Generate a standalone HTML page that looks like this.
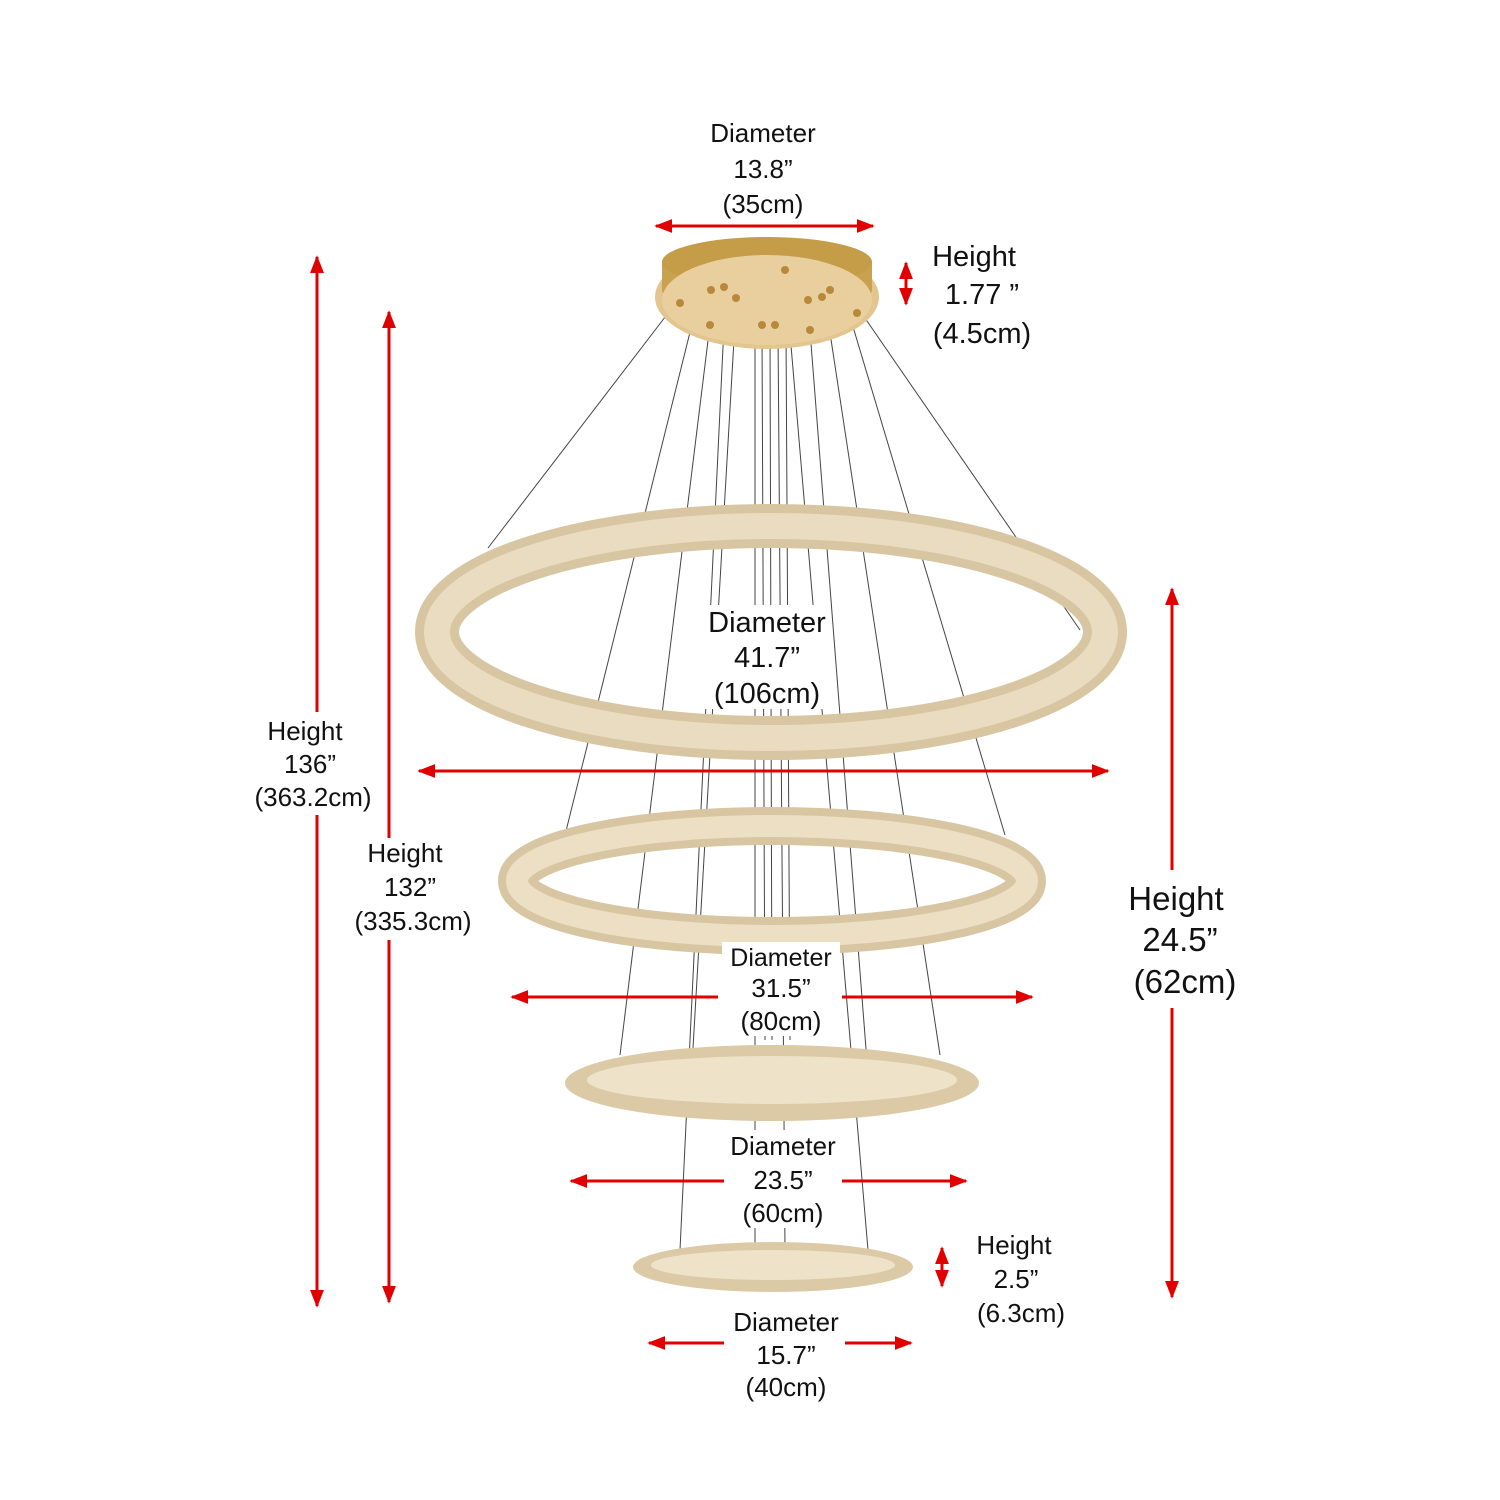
<!DOCTYPE html>
<html><head><style>
body{margin:0;background:#fff}
svg{display:block}
text{font-family:"Liberation Sans",Arial,sans-serif;fill:#111;text-anchor:middle}
</style></head><body>
<svg width="1500" height="1500" viewBox="0 0 1500 1500" xmlns="http://www.w3.org/2000/svg">
<defs>
<marker id="b" viewBox="0 0 10 10" markerWidth="18" markerHeight="14" refX="9" refY="5" orient="auto-start-reverse" markerUnits="userSpaceOnUse" preserveAspectRatio="none"><path d="M0,0 L10,5 L0,10 Z" fill="#e00000"/></marker>
</defs>
<!-- wires -->
<g stroke="#444" stroke-width="1" fill="none">
<line x1="672" y1="308" x2="488" y2="548"/>
<line x1="698" y1="300" x2="565" y2="835"/>
<line x1="713" y1="300" x2="620" y2="1055"/>
<line x1="725" y1="305" x2="680" y2="1250"/>
<line x1="736" y1="305" x2="690" y2="1100"/>
<line x1="785" y1="275" x2="868" y2="1250"/>
<line x1="808" y1="305" x2="870" y2="1100"/>
<line x1="825" y1="300" x2="940" y2="1055"/>
<line x1="845" y1="300" x2="1005" y2="835"/>
<line x1="858" y1="308" x2="1080" y2="630"/>
<line x1="755" y1="330" x2="755" y2="1250"/>
<line x1="762" y1="330" x2="765" y2="1040"/>
<line x1="770" y1="330" x2="772" y2="1040"/>
<line x1="778" y1="330" x2="785" y2="1250"/>
<line x1="786" y1="330" x2="790" y2="1040"/>
</g>
<!-- canopy -->
<ellipse cx="767" cy="297" rx="112" ry="52" fill="#e2c58f"/>
<path d="M662,262 L662,290 A105,22 0 0 0 872,290 L872,262 Z" fill="#c9a24f"/>
<ellipse cx="767" cy="262" rx="105" ry="25" fill="#c59c48"/>
<ellipse cx="767" cy="300" rx="105" ry="45" fill="#e8cf9d"/>
<g fill="#b8893a">
<circle cx="680" cy="303" r="4"/><circle cx="711" cy="290" r="4"/><circle cx="724" cy="287" r="4"/><circle cx="736" cy="298" r="4"/>
<circle cx="785" cy="270" r="4"/><circle cx="808" cy="300" r="4"/><circle cx="822" cy="297" r="4"/><circle cx="830" cy="290" r="4"/><circle cx="857" cy="313" r="4"/>
<circle cx="710" cy="325" r="4"/><circle cx="810" cy="330" r="4"/><circle cx="762" cy="325" r="4"/><circle cx="775" cy="325" r="4"/>
</g>
<!-- rings -->
<ellipse cx="771" cy="632" rx="334" ry="106" fill="none" stroke="#d8c6a3" stroke-width="44"/>
<ellipse cx="771" cy="632" rx="334" ry="106" fill="none" stroke="#eadcc0" stroke-width="26"/>
<ellipse cx="772" cy="881" rx="255" ry="55" fill="none" stroke="#d8c6a3" stroke-width="38"/>
<ellipse cx="772" cy="881" rx="255" ry="55" fill="none" stroke="#ecdfc3" stroke-width="22"/>
<ellipse cx="772" cy="1083" rx="207" ry="38" fill="#dccaa6"/>
<ellipse cx="772" cy="1080" rx="185" ry="24" fill="#eee2c8"/>
<ellipse cx="773" cy="1267" rx="140" ry="25" fill="#dccaa6"/>
<ellipse cx="773" cy="1265" rx="122" ry="15" fill="#eee2c8"/>
<!-- label backgrounds -->
<g fill="#fff">
<rect x="705" y="605" width="124" height="104"/>
<rect x="722" y="942" width="118" height="94"/>
<rect x="724" y="1130" width="118" height="98"/>
</g>
<!-- arrows -->
<g stroke="#e00000" stroke-width="3" fill="none">
<line x1="656" y1="226" x2="873" y2="226" marker-start="url(#b)" marker-end="url(#b)"/>
<line x1="906" y1="263" x2="906" y2="304" marker-start="url(#b)" marker-end="url(#b)"/>
<line x1="317" y1="257" x2="317" y2="712" marker-start="url(#b)"/>
<line x1="317" y1="815" x2="317" y2="1306" marker-end="url(#b)"/>
<line x1="389" y1="312" x2="389" y2="838"/>
<line x1="389" y1="312" x2="389" y2="320" marker-start="url(#b)"/>
<line x1="389" y1="940" x2="389" y2="1302" marker-end="url(#b)"/>
<line x1="1172" y1="589" x2="1172" y2="870" marker-start="url(#b)"/>
<line x1="1172" y1="1008" x2="1172" y2="1297" marker-end="url(#b)"/>
<line x1="419" y1="771" x2="1108" y2="771" marker-start="url(#b)" marker-end="url(#b)"/>
<line x1="512" y1="997" x2="718" y2="997" marker-start="url(#b)"/>
<line x1="842" y1="997" x2="1032" y2="997" marker-end="url(#b)"/>
<line x1="571" y1="1181" x2="724" y2="1181" marker-start="url(#b)"/>
<line x1="842" y1="1181" x2="966" y2="1181" marker-end="url(#b)"/>
<line x1="649" y1="1343" x2="724" y2="1343" marker-start="url(#b)"/>
<line x1="845" y1="1343" x2="911" y2="1343" marker-end="url(#b)"/>
<line x1="942" y1="1248" x2="942" y2="1286" marker-start="url(#b)" marker-end="url(#b)"/>
</g>
<!-- labels -->
<g font-size="26">
<text x="763" y="142">Diameter</text><text x="763" y="178">13.8”</text><text x="763" y="213">(35cm)</text>
<text x="305" y="740">Height</text><text x="310" y="773">136”</text><text x="313" y="806">(363.2cm)</text>
<text x="405" y="862">Height</text><text x="410" y="896">132”</text><text x="413" y="930">(335.3cm)</text>
<text x="781" y="966" font-size="25">Diameter</text><text x="781" y="997">31.5”</text><text x="781" y="1030">(80cm)</text>
<text x="783" y="1155">Diameter</text><text x="783" y="1189">23.5”</text><text x="783" y="1222">(60cm)</text>
<text x="1014" y="1254">Height</text><text x="1016" y="1288">2.5”</text><text x="1021" y="1322">(6.3cm)</text>
<text x="786" y="1331">Diameter</text><text x="786" y="1364">15.7”</text><text x="786" y="1396">(40cm)</text>
</g>
<g font-size="29">
<text x="974" y="266">Height</text><text x="982" y="304">1.77 ”</text><text x="982" y="343">(4.5cm)</text>
<text x="767" y="632">Diameter</text><text x="767" y="667">41.7”</text><text x="767" y="703">(106cm)</text>
</g>
<g font-size="33">
<text x="1176" y="910">Height</text><text x="1180" y="951">24.5”</text><text x="1185" y="993">(62cm)</text>
</g>
</svg>
</body></html>
